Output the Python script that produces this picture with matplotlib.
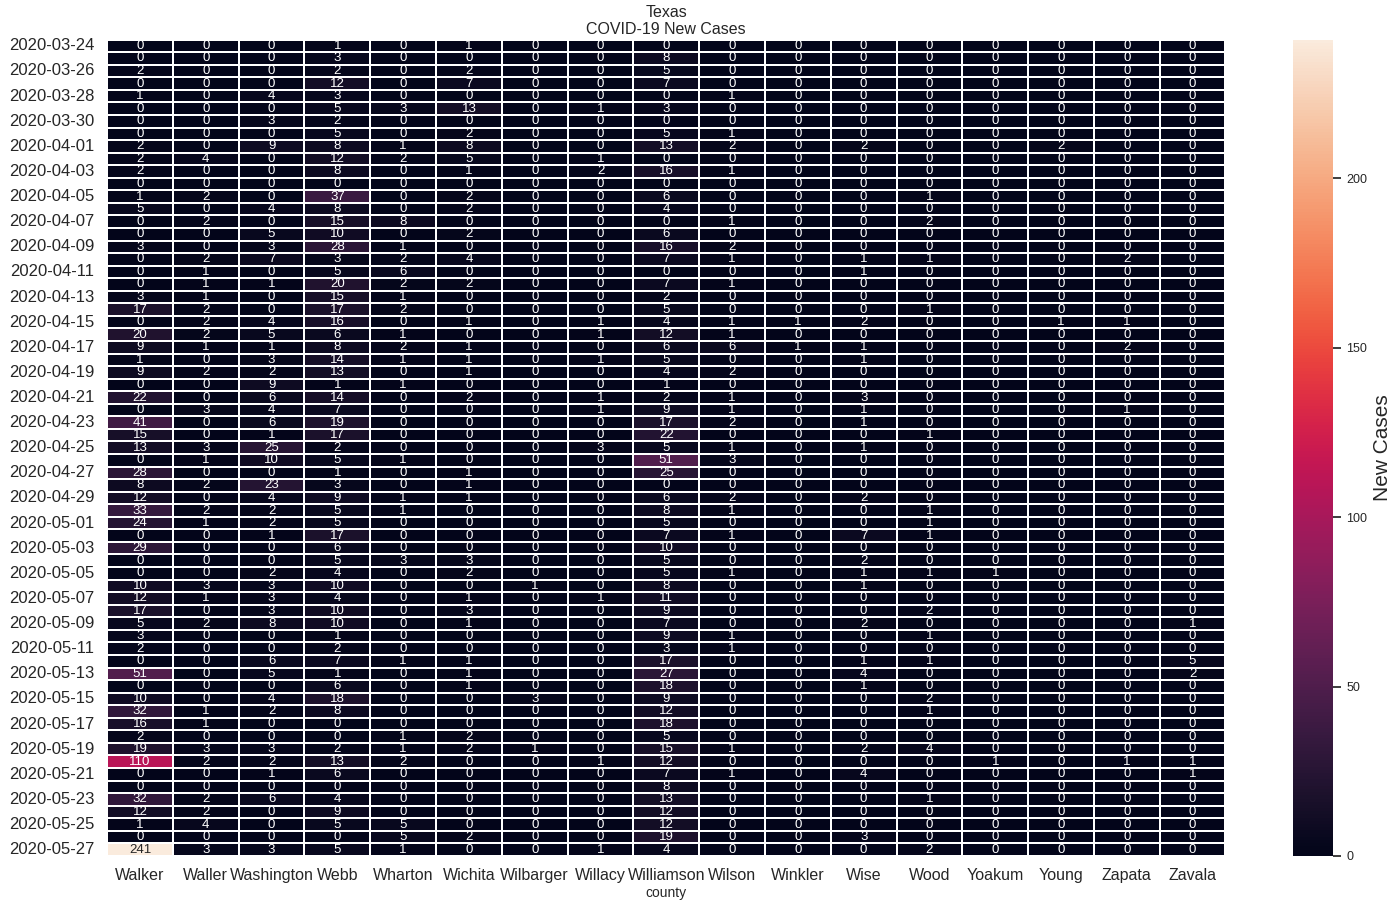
import numpy as np
import pandas as pd
import matplotlib
matplotlib.use('Agg')
import matplotlib.pyplot as plt
import seaborn as sns

sns.set_theme(style='white')
plt.rcParams['font.family'] = ['Liberation Sans', 'DejaVu Sans']

dates = pd.date_range('2020-03-24', '2020-05-27').strftime('%Y-%m-%d')

counties = ['Walker', 'Waller', 'Washington', 'Webb', 'Wharton', 'Wichita', 'Wilbarger',
            'Willacy', 'Williamson', 'Wilson', 'Winkler', 'Wise', 'Wood', 'Yoakum',
            'Young', 'Zapata', 'Zavala']

walker = [0, 0, 2, 0, 1, 0, 0, 0, 2, 2, 2, 0, 1,
          5, 0, 0, 3, 0, 0, 0, 3, 17, 0, 20, 9, 1,
          9, 0, 22, 0, 41, 15, 13, 0, 28, 8, 12, 33, 24,
          0, 29, 0, 0, 10, 12, 17, 5, 3, 2, 0, 51, 0,
          10, 32, 16, 2, 19, 110, 0, 0, 32, 12, 1, 0, 241]
waller = [0, 0, 0, 0, 0, 0, 0, 0, 0, 4, 0, 0, 2,
          0, 2, 0, 0, 2, 1, 1, 1, 2, 2, 2, 1, 0,
          2, 0, 0, 3, 0, 0, 3, 1, 0, 2, 0, 2, 1,
          0, 0, 0, 0, 3, 1, 0, 2, 0, 0, 0, 0, 0,
          0, 1, 1, 0, 3, 2, 0, 0, 2, 2, 4, 0, 3]
washington = [0, 0, 0, 0, 4, 0, 3, 0, 9, 0, 0, 0, 0,
              4, 0, 5, 3, 7, 0, 1, 0, 0, 4, 5, 1, 3,
              2, 9, 6, 4, 6, 1, 25, 10, 0, 23, 4, 2, 2,
              1, 0, 0, 2, 3, 3, 3, 8, 0, 0, 6, 5, 0,
              4, 2, 0, 0, 3, 2, 1, 0, 6, 0, 0, 0, 3]
webb = [1, 3, 2, 12, 3, 5, 2, 5, 8, 12, 8, 0, 37,
        8, 15, 10, 28, 3, 5, 20, 15, 17, 16, 6, 8, 14,
        13, 1, 14, 7, 19, 17, 2, 5, 1, 3, 9, 5, 5,
        17, 6, 5, 4, 10, 4, 10, 10, 1, 2, 7, 1, 6,
        18, 8, 0, 0, 2, 13, 6, 0, 4, 9, 5, 0, 5]
wharton = [0, 0, 0, 0, 0, 3, 0, 0, 1, 2, 0, 0, 0,
           0, 8, 0, 1, 2, 6, 2, 1, 2, 0, 1, 2, 1,
           0, 1, 0, 0, 0, 0, 0, 1, 0, 0, 1, 1, 0,
           0, 0, 3, 0, 0, 0, 0, 0, 0, 0, 1, 0, 0,
           0, 0, 0, 1, 1, 2, 0, 0, 0, 0, 5, 5, 1]
wichita = [1, 0, 2, 7, 0, 13, 0, 2, 8, 5, 1, 0, 2,
           2, 0, 2, 0, 4, 0, 2, 0, 0, 1, 0, 1, 1,
           1, 0, 2, 0, 0, 0, 0, 0, 1, 1, 1, 0, 0,
           0, 0, 3, 2, 0, 1, 3, 1, 0, 0, 1, 1, 1,
           0, 0, 0, 2, 2, 0, 0, 0, 0, 0, 0, 2, 0]
wilbarger = [0, 0, 0, 0, 0, 0, 0, 0, 0, 0, 0, 0, 0,
             0, 0, 0, 0, 0, 0, 0, 0, 0, 0, 0, 0, 0,
             0, 0, 0, 0, 0, 0, 0, 0, 0, 0, 0, 0, 0,
             0, 0, 0, 0, 1, 0, 0, 0, 0, 0, 0, 0, 0,
             3, 0, 0, 0, 1, 0, 0, 0, 0, 0, 0, 0, 0]
willacy = [0, 0, 0, 0, 0, 1, 0, 0, 0, 1, 2, 0, 0,
           0, 0, 0, 0, 0, 0, 0, 0, 0, 1, 1, 0, 1,
           0, 0, 1, 1, 0, 0, 3, 0, 0, 0, 0, 0, 0,
           0, 0, 0, 0, 0, 1, 0, 0, 0, 0, 0, 0, 0,
           0, 0, 0, 0, 0, 1, 0, 0, 0, 0, 0, 0, 1]
williamson = [0, 8, 5, 7, 0, 3, 0, 5, 13, 0, 16, 0, 6,
              4, 0, 6, 16, 7, 0, 7, 2, 5, 4, 12, 6, 5,
              4, 1, 2, 9, 17, 22, 5, 51, 25, 0, 6, 8, 5,
              7, 10, 5, 5, 8, 11, 9, 7, 9, 3, 17, 27, 18,
              9, 12, 18, 5, 15, 12, 7, 8, 13, 12, 12, 19, 4]
wilson = [0, 0, 0, 0, 1, 0, 0, 1, 2, 0, 1, 0, 0,
          0, 1, 0, 2, 1, 0, 1, 0, 0, 1, 1, 6, 0,
          2, 0, 1, 1, 2, 0, 1, 3, 0, 0, 2, 1, 0,
          1, 0, 0, 1, 0, 0, 0, 0, 1, 1, 0, 0, 0,
          0, 0, 0, 0, 1, 0, 1, 0, 0, 0, 0, 0, 0]
winkler = [0, 0, 0, 0, 0, 0, 0, 0, 0, 0, 0, 0, 0,
           0, 0, 0, 0, 0, 0, 0, 0, 0, 1, 0, 1, 0,
           0, 0, 0, 0, 0, 0, 0, 0, 0, 0, 0, 0, 0,
           0, 0, 0, 0, 0, 0, 0, 0, 0, 0, 0, 0, 0,
           0, 0, 0, 0, 0, 0, 0, 0, 0, 0, 0, 0, 0]
wise = [0, 0, 0, 0, 0, 0, 0, 0, 2, 0, 0, 0, 0,
        0, 0, 0, 0, 1, 1, 0, 0, 0, 2, 0, 1, 1,
        0, 0, 3, 1, 1, 0, 1, 0, 0, 0, 2, 0, 0,
        7, 0, 2, 1, 1, 0, 0, 2, 0, 0, 1, 4, 1,
        0, 0, 0, 0, 2, 0, 4, 0, 0, 0, 0, 3, 0]
wood = [0, 0, 0, 0, 0, 0, 0, 0, 0, 0, 0, 0, 1,
        0, 2, 0, 0, 1, 0, 0, 0, 1, 0, 0, 0, 0,
        0, 0, 0, 0, 0, 1, 0, 0, 0, 0, 0, 1, 1,
        1, 0, 0, 1, 0, 0, 2, 0, 1, 0, 1, 0, 0,
        2, 1, 0, 0, 4, 0, 0, 0, 1, 0, 0, 0, 2]
yoakum = [0, 0, 0, 0, 0, 0, 0, 0, 0, 0, 0, 0, 0,
          0, 0, 0, 0, 0, 0, 0, 0, 0, 0, 0, 0, 0,
          0, 0, 0, 0, 0, 0, 0, 0, 0, 0, 0, 0, 0,
          0, 0, 0, 1, 0, 0, 0, 0, 0, 0, 0, 0, 0,
          0, 0, 0, 0, 0, 1, 0, 0, 0, 0, 0, 0, 0]
young = [0, 0, 0, 0, 0, 0, 0, 0, 2, 0, 0, 0, 0,
         0, 0, 0, 0, 0, 0, 0, 0, 0, 1, 0, 0, 0,
         0, 0, 0, 0, 0, 0, 0, 0, 0, 0, 0, 0, 0,
         0, 0, 0, 0, 0, 0, 0, 0, 0, 0, 0, 0, 0,
         0, 0, 0, 0, 0, 0, 0, 0, 0, 0, 0, 0, 0]
zapata = [0, 0, 0, 0, 0, 0, 0, 0, 0, 0, 0, 0, 0,
          0, 0, 0, 0, 2, 0, 0, 0, 0, 1, 0, 2, 0,
          0, 0, 0, 1, 0, 0, 0, 0, 0, 0, 0, 0, 0,
          0, 0, 0, 0, 0, 0, 0, 0, 0, 0, 0, 0, 0,
          0, 0, 0, 0, 0, 1, 0, 0, 0, 0, 0, 0, 0]
zavala = [0, 0, 0, 0, 0, 0, 0, 0, 0, 0, 0, 0, 0,
          0, 0, 0, 0, 0, 0, 0, 0, 0, 0, 0, 0, 0,
          0, 0, 0, 0, 0, 0, 0, 0, 0, 0, 0, 0, 0,
          0, 0, 0, 0, 0, 0, 0, 1, 0, 0, 5, 2, 0,
          0, 0, 0, 0, 0, 1, 1, 0, 0, 0, 0, 0, 0]

cols = [walker, waller, washington, webb, wharton, wichita, wilbarger, willacy,
        williamson, wilson, winkler, wise, wood, yoakum, young, zapata, zavala]
df = pd.DataFrame(dict(zip(counties, cols)), index=dates)
df.index.name = 'date'
df.columns.name = 'county'

fig = plt.figure(figsize=(13.91, 9), dpi=100)
ax = fig.add_axes([0.077, 0.049, 0.804, 0.907])
cax = fig.add_axes([0.9296, 0.049, 0.0288, 0.907])

sns.heatmap(df, ax=ax, cbar_ax=cax, annot=True, fmt='d', linewidths=1.3, linecolor='white',
            annot_kws={'fontsize': 9.5}, cbar_kws={'label': 'New Cases'})

ax.set_yticks(np.arange(0, len(dates), 2) + 0.5)
ax.set_yticklabels(dates[::2], rotation=0, fontsize=12)
ax.set_xticks(np.arange(len(counties)) + 0.5)
ax.set_xticklabels(counties, rotation=0, fontsize=11.5)
ax.tick_params(axis='both', pad=3)
ax.set_xlabel('county', fontsize=10, labelpad=2)
ax.set_ylabel('date', fontsize=10)
ax.set_title('Texas\nCOVID-19 New Cases', fontsize=11.5, pad=4)
cax.tick_params(labelsize=9)
cax.set_ylabel('New Cases', fontsize=15, labelpad=4)

fig.savefig('out.png', dpi=100)
